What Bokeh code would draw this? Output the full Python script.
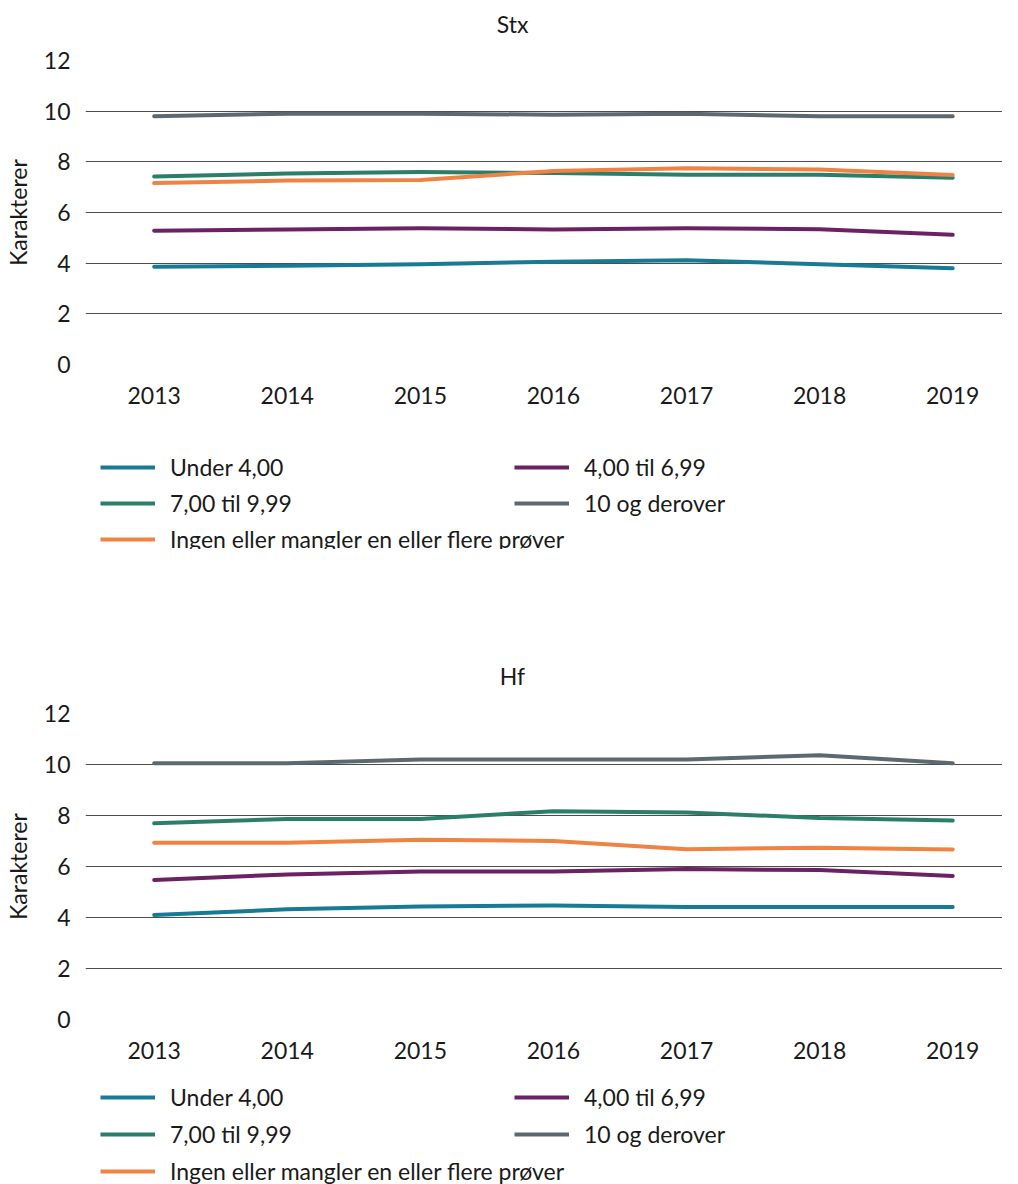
from bokeh.plotting import figure
from bokeh.models import Legend, LegendItem, Range1d, FixedTicker, Label
from bokeh.layouts import column
from bokeh.embed import file_html
from bokeh.resources import INLINE

years = [2013, 2014, 2015, 2016, 2017, 2018, 2019]
series_names = ["Under 4,00", "4,00 til 6,99", "7,00 til 9,99", "10 og derover",
                "Ingen eller mangler en eller flere prøver"]
colors = ["#177b96", "#6b2163", "#2b7f6a", "#5c6970", "#ee8344"]
y_ticks = [0, 2, 4, 6, 8, 10, 12]

# Stx
stx_under4 = [3.86, 3.90, 3.96, 4.06, 4.12, 3.96, 3.80]
stx_4_699 = [5.28, 5.33, 5.38, 5.33, 5.38, 5.34, 5.12]
stx_7_999 = [7.42, 7.54, 7.60, 7.56, 7.49, 7.49, 7.37]
stx_10plus = [9.80, 9.90, 9.90, 9.86, 9.90, 9.80, 9.80]
stx_ingen = [7.16, 7.26, 7.28, 7.64, 7.75, 7.70, 7.48]

# Hf
hf_under4 = [4.10, 4.32, 4.43, 4.47, 4.41, 4.41, 4.41]
hf_4_699 = [5.47, 5.69, 5.80, 5.80, 5.90, 5.86, 5.63]
hf_7_999 = [7.70, 7.86, 7.86, 8.17, 8.12, 7.90, 7.80]
hf_10plus = [10.05, 10.05, 10.20, 10.20, 10.20, 10.36, 10.05]
hf_ingen = [6.93, 6.93, 7.05, 7.00, 6.68, 6.74, 6.67]

FONT = "Lato"
TXT = "#1a1a1a"
FS = "23px"
W = 1002
LW = 4


def bare_fig(height):
    p = figure(width=W, height=height, output_backend="svg", toolbar_location=None,
               x_range=Range1d(0, 1), y_range=Range1d(0, 1),
               min_border=0, x_axis_type=None, y_axis_type=None)
    p.outline_line_color = None
    p.grid.grid_line_color = None
    p.background_fill_color = "white"
    p.border_fill_color = "white"
    return p


def make_title(text, height, y_from_bottom):
    p = bare_fig(height)
    p.add_layout(Label(x=427, y=y_from_bottom, x_units="screen", y_units="screen",
                       text=text, text_align="center", text_baseline="middle",
                       text_font=FONT, text_font_size=FS, text_color=TXT))
    return p


def make_chart(data, height, bottom):
    p = figure(width=W, height=height, output_backend="svg", toolbar_location=None,
               x_range=Range1d(2012.484, 2019.374), y_range=Range1d(0, 12),
               min_border_left=80, min_border_right=0, min_border_top=16,
               min_border_bottom=bottom)
    p.outline_line_color = None
    p.background_fill_color = "white"
    p.border_fill_color = "white"

    p.xaxis.ticker = FixedTicker(ticks=years)
    p.yaxis.ticker = FixedTicker(ticks=y_ticks)
    for ax in (p.xaxis, p.yaxis):
        ax.axis_line_color = None
        ax.major_tick_line_color = None
        ax.minor_tick_line_color = None
        ax.major_tick_out = 0
        ax.major_tick_in = 0
        ax.major_label_text_font = FONT
        ax.major_label_text_font_size = FS
        ax.major_label_text_color = TXT
    p.xaxis.major_label_standoff = 22
    p.yaxis.major_label_standoff = 15
    p.yaxis.axis_label = "Karakterer"
    p.yaxis.axis_label_text_font = FONT
    p.yaxis.axis_label_text_font_size = FS
    p.yaxis.axis_label_text_font_style = "normal"
    p.yaxis.axis_label_text_color = TXT
    p.yaxis.axis_label_standoff = 9
    p.xgrid.grid_line_color = None
    p.ygrid.grid_line_color = "#4d4d4d"
    p.ygrid.grid_line_width = 1

    for vals, col in zip(data, colors):
        p.line(years, vals, line_color=col, line_width=LW, line_cap="round",
               line_join="round")
    return p


def make_legend_fig(data, height, pitch, ya, yb):
    # legend panel: the series are drawn out of view so only the legend shows
    p = bare_fig(height)
    renderers = [p.line(years, vals, line_color=col, line_width=LW)
                 for vals, col in zip(data, colors)]

    def mk(idx, x, y):
        items = [LegendItem(label=series_names[i], renderers=[renderers[i]]) for i in idx]
        lg = Legend(items=items, location=(x, y), orientation="vertical",
                    border_line_color=None, background_fill_alpha=0, margin=0, padding=0,
                    glyph_width=55, glyph_height=28, label_height=28, label_standoff=15,
                    spacing=pitch - 28, label_text_font=FONT,
                    label_text_font_size=FS, label_text_color=TXT)
        p.add_layout(lg)

    mk([0, 2, 4], 15, ya)
    mk([1, 3], 429, yb)
    return p


stx = [stx_under4, stx_4_699, stx_7_999, stx_10plus, stx_ingen]
hf = [hf_under4, hf_4_699, hf_7_999, hf_10plus, hf_ingen]

t1 = make_title("Stx", height=44, y_from_bottom=21)
p1 = make_chart(stx, height=376, bottom=56)
l1 = make_legend_fig(stx, height=129, pitch=36, ya=-4, yb=32)
t2 = make_title("Hf", height=148, y_from_bottom=22)
p2 = make_chart(hf, height=378, bottom=56)
l2 = make_legend_fig(hf, height=109, pitch=37, ya=-1, yb=36)

layout = column(t1, p1, l1, t2, p2, l2, spacing=0)
open("out.html", "w").write(file_html(layout, INLINE))
